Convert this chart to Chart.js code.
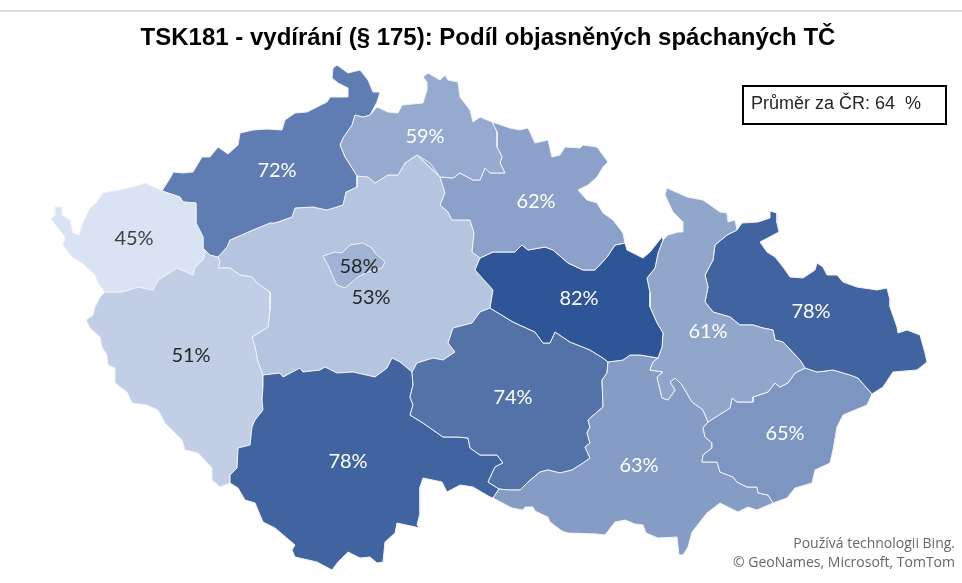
<!DOCTYPE html>
<html>
<head>
<meta charset="utf-8">
<title>TSK181</title>
<script src="https://cdn.jsdelivr.net/npm/chart.js@4/dist/chart.umd.min.js"></script>
<style>
  html, body { margin: 0; padding: 0; background: #fff; }
  canvas { display: block; }
</style>
</head>
<body>
<canvas id="map" width="962" height="583"></canvas>
<script>
// kraje a hodnoty
const regions = ['Karlovarský', 'Ústecký', 'Liberecký', 'Královéhradecký', 'Pardubický', 'Olomoucký', 'Moravskoslezský', 'Zlínský', 'Jihomoravský', 'Vysočina', 'Jihočeský', 'Plzeňský', 'Středočeský', 'Praha'];
const values = [45, 72, 59, 62, 82, 61, 78, 65, 63, 74, 78, 51, 53, 58];
const colors = ['#DAE3F3', '#5F7DB2', '#96AACF', '#8BA1C9', '#2E5597', '#90A6CB', '#41639F', '#7D96C1', '#859CC5', '#5372A8', '#41639F', '#C2CEE5', '#B5C4DF', '#A0B3D5'];
const labelColors = ['#404040', '#fff', '#fff', '#fff', '#fff', '#fff', '#fff', '#fff', '#fff', '#fff', '#fff', '#262626', '#262626', '#262626'];
const labelAnchors = [[134, 239], [277, 171], [425, 137], [536, 202], [579, 299], [708, 332], [811, 312], [785, 434], [639, 466], [513, 398], [348, 462], [191, 356], [371, 298], [359, 267]];

// hranice krajů odečtené z mapy, sdílené úseky
const kvNorth = [[162,191],[145,183],[137,186],[120,190],[103,193],[97,202],[90,208],[83,223],[79,235],[73,233],[70,220],[62,215],[62,207],[55,207],[55,215],[51,219],[58,228],[65,237],[63,245],[72,257],[82,263],[95,275],[98,283],[105,292]];
const kvPlzen = [[105,292],[113,292],[122,292],[138,287],[153,290],[158,280],[177,268],[193,275],[195,267],[203,260],[205,253],[203,248]];
const kvUsti = [[203,248],[203,237],[196,223],[196,203],[183,202],[180,197],[162,191]];
const ustiNorth = [[162,191],[172,175],[173,172],[183,173],[193,172],[202,157],[210,157],[218,147],[228,154],[238,145],[240,133],[253,130],[267,129],[282,130],[285,120],[295,113],[307,112],[327,102],[330,97],[348,97],[348,88],[338,83],[332,78],[333,68],[337,65],[348,73],[360,70],[368,80],[373,92],[380,92],[377,102],[370,115]];
const ustiLiberec = [[370,115],[363,117],[355,115],[352,125],[343,138],[340,145],[345,157],[352,168],[357,176]];
const ustiStred = [[357,176],[357,187],[346,192],[343,205],[327,210],[313,207],[295,208],[292,217],[275,223],[270,223],[253,230],[230,240],[227,247],[218,257],[210,255],[203,248]];
const plzenStred = [[218,257],[220,262],[218,268],[230,268],[240,275],[252,277],[257,283],[270,292],[270,310],[268,327],[252,337],[255,347],[258,362],[263,375]];
const jihStred = [[263,375],[280,373],[283,377],[300,368],[303,372],[320,370],[325,367],[337,373],[353,372],[375,377],[387,368],[392,358],[400,362],[412,372]];
const vysStred = [[412,372],[417,363],[433,358],[443,360],[455,352],[448,343],[453,328],[472,323],[480,312],[490,308]];
const parStred = [[490,308],[493,290],[475,270],[480,258],[472,252],[474,233],[470,220],[452,220],[448,212],[440,205],[445,193],[440,177]];
const hkStred = [[440,177],[430,163],[417,155]];
const libStred = [[417,155],[405,163],[398,175],[388,175],[375,183],[368,177],[357,176]];
const libNorth = [[370,115],[377,107],[388,112],[398,113],[402,105],[423,103],[427,90],[427,82],[423,77],[428,73],[440,80],[445,75],[448,80],[458,82],[460,97],[470,110],[473,122],[480,117],[492,122]];
const libHk = [[492,122],[497,132],[497,147],[502,157],[500,163],[505,173],[490,173],[485,168],[480,180],[473,180],[460,173],[453,178],[440,177]];
const hkNorth = [[492,122],[510,128],[520,130],[528,128],[535,143],[548,140],[552,157],[560,155],[565,147],[580,148],[583,145],[597,147],[608,162],[603,167],[597,177],[588,185],[578,190],[587,200],[597,203],[603,213],[613,220],[623,233],[625,243]];
const hkPar = [[625,243],[615,245],[607,257],[595,270],[583,270],[568,263],[553,250],[545,247],[528,250],[522,245],[515,252],[493,252],[480,258]];
const parNorth = [[625,243],[627,250],[643,258],[650,252],[662,237],[663,240]];
const parOlo = [[663,240],[658,253],[655,268],[647,278],[650,293],[650,307],[657,323],[663,333],[662,347],[658,358]];
const parJm = [[658,358],[640,355],[630,355],[623,360],[608,362]];
const parVys = [[608,362],[603,358],[590,350],[570,342],[555,332],[550,343],[543,343],[535,332],[513,322],[490,308]];
const oloNorth = [[663,240],[668,235],[678,232],[683,232],[683,222],[673,212],[665,195],[667,188],[687,197],[703,200],[720,212],[727,213],[728,222],[735,220],[737,230]];
const oloMsk = [[737,230],[727,235],[715,245],[713,260],[705,275],[708,287],[705,302],[713,312],[730,317],[740,325],[753,325],[763,328],[773,330],[775,340],[783,342],[798,358],[800,360],[805,368]];
const oloZlin = [[805,368],[795,373],[788,383],[780,387],[775,383],[768,392],[753,397],[753,402],[737,402],[732,398],[730,408],[708,422]];
const oloJm = [[708,422],[703,410],[692,402],[682,385],[675,378],[670,382],[675,390],[668,400],[662,398],[660,390],[657,377],[663,372],[650,370],[653,362],[658,358]];
const mskNorth = [[737,230],[742,223],[758,222],[770,218],[770,211],[777,213],[777,223],[779,232],[760,242],[767,252],[775,257],[783,267],[790,277],[803,278],[815,270],[817,263],[823,267],[827,275],[837,275],[843,282],[857,287],[877,290],[887,288],[890,300],[890,307],[897,327],[898,333],[907,330],[920,335],[925,353],[927,362],[917,370],[893,372],[883,387],[872,394]];
const mskZlin = [[872,394],[858,378],[850,375],[833,370],[817,372],[805,368]];
const zlinSouth = [[872,394],[867,405],[843,415],[837,427],[833,450],[830,463],[815,470],[812,483],[795,488],[787,498],[773,503]];
const zlinJm = [[773,503],[768,495],[758,493],[757,487],[747,487],[737,482],[733,477],[720,472],[717,462],[702,462],[703,455],[712,448],[712,443],[705,437],[703,428],[708,422]];
const jmSouth = [[773,503],[757,510],[748,507],[738,512],[720,503],[707,513],[692,532],[688,547],[683,555],[679,555],[677,537],[658,538],[646,533],[643,525],[635,524],[625,520],[615,522],[605,535],[597,534],[568,533],[562,531],[550,522],[548,517],[535,511],[533,507],[525,507],[523,510],[512,508],[493,498]];
const jmVys = [[608,362],[607,373],[602,380],[603,407],[588,420],[590,427],[587,433],[590,443],[585,447],[590,458],[583,463],[572,470],[560,473],[548,470],[540,472],[528,482],[520,490],[508,490],[499,489]];
const jihJm = [[499,489],[493,498]];
const jihVys = [[412,372],[413,385],[410,397],[413,405],[410,415],[423,423],[433,430],[443,437],[457,437],[468,438],[470,448],[480,455],[497,455],[503,463],[495,467],[488,482],[499,489]];
const jihSouth = [[493,498],[490,497],[473,487],[460,485],[447,492],[442,482],[423,478],[420,487],[420,513],[417,525],[420,528],[397,523],[395,533],[385,542],[383,562],[377,563],[370,557],[360,558],[348,552],[338,562],[332,570],[317,562],[295,557],[292,550],[295,545],[275,528],[263,522],[255,503],[245,500],[238,488],[230,483]];
const jihPlzen = [[230,483],[230,475],[237,468],[238,448],[250,445],[252,427],[255,420],[263,410],[262,400],[263,387],[263,375]];
const plzenSouth = [[105,292],[100,297],[95,307],[93,315],[86,320],[90,328],[100,337],[102,347],[107,355],[108,365],[115,368],[115,383],[127,392],[132,403],[147,405],[158,410],[165,423],[182,440],[185,450],[198,453],[212,468],[212,480],[220,487],[230,483]];
const prahaOutline = [[323,256],[335,252],[342,253],[350,245],[363,243],[372,248],[375,253],[385,262],[382,268],[368,272],[358,277],[345,288],[337,285],[333,277],[328,265],[323,256]];

const rev = a => a.slice().reverse();
const outlines = [
  [...kvNorth, ...kvPlzen, ...kvUsti],
  [...ustiNorth, ...ustiLiberec, ...ustiStred, ...kvUsti],
  [...libNorth, ...libHk, ...rev(hkStred), ...libStred.slice(0, -1), ...rev(ustiLiberec)],
  [...hkNorth, ...hkPar, ...parStred.slice(3), ...rev(libHk)],
  [...parNorth, ...parOlo, ...parJm, ...parVys, ...parStred.slice(0, 3), ...rev(hkPar)],
  [...oloNorth, ...oloMsk, ...oloZlin, ...oloJm, ...rev(parOlo)],
  [...mskNorth, ...mskZlin, ...rev(oloMsk)],
  [...zlinSouth, ...zlinJm, ...rev(oloZlin), ...rev(mskZlin)],
  [...jmSouth, ...rev(jihJm), ...rev(jmVys), ...rev(parJm), ...rev(oloJm), ...rev(zlinJm)],
  [...rev(parVys), ...jmVys, ...rev(jihVys), ...vysStred],
  [...jihStred, ...jihVys, ...jihJm, ...jihSouth, ...jihPlzen],
  [...kvPlzen, ...rev(ustiStred.slice(-3)), ...plzenStred, ...rev(jihPlzen), ...rev(plzenSouth)],
  [...plzenStred, ...jihStred, ...vysStred, ...parStred, ...hkStred, ...libStred, ...ustiStred.slice(0, 14)],
  prahaOutline
];

const titleText = 'TSK181 - vydírání (§ 175): Podíl objasněných spáchaných TČ';
const averageText = 'Průměr za ČR: 64  %';
const creditLines = ['Používá technologii Bing.', '© GeoNames, Microsoft, TomTom'];

// popisky krajů, rámeček s průměrem, čára nahoře a copyright
const mapText = {
  id: 'mapText',
  afterDatasetsDraw(chart) {
    const { ctx, scales: { x, y } } = chart;
    ctx.save();
    ctx.fillStyle = '#DDD';
    ctx.fillRect(0, 10, 962, 2);

    ctx.textBaseline = 'middle';
    ctx.textAlign = 'center';
    ctx.font = '20px Lato';
    values.forEach((v, i) => {
      ctx.fillStyle = labelColors[i];
      ctx.fillText(v + '%', x.getPixelForValue(labelAnchors[i][0]), y.getPixelForValue(labelAnchors[i][1]));
    });

    ctx.fillStyle = '#fff';
    ctx.strokeStyle = '#000';
    ctx.lineWidth = 2;
    ctx.fillRect(743, 86, 203, 38);
    ctx.strokeRect(743, 86, 203, 38);
    ctx.fillStyle = '#262626';
    ctx.textAlign = 'left';
    ctx.font = '18px "Liberation Sans"';
    ctx.fillText(averageText, 751, 104);

    ctx.textAlign = 'right';
    ctx.fillStyle = '#666';
    ctx.font = '14px "Open Sans"';
    ctx.fillText(creditLines[0], 955, 544);
    ctx.fillText(creditLines[1], 955, 563);
    ctx.restore();
  }
};

new Chart(document.getElementById('map'), {
  type: 'scatter',
  data: {
    datasets: regions.map((name, i) => ({
      label: name,
      data: outlines[i].map(p => ({ x: p[0], y: p[1] })),
      showLine: true,
      fill: 'shape',
      backgroundColor: colors[i],
      borderColor: '#EEF2F9',
      borderWidth: 1,
      pointRadius: 0,
      tension: 0,
      clip: false,
      // Praha lezi uvnitr Stredoceskeho, musi se kreslit az po nem
      order: name === 'Praha' ? -1 : 0
    }))
  },
  options: {
    responsive: false,
    animation: false,
    layout: { padding: { left: 14 } },
    scales: {
      x: { type: 'linear', min: 14, max: 962, display: false },
      y: { type: 'linear', min: 51, max: 583, reverse: true, display: false }
    },
    plugins: {
      legend: { display: false },
      tooltip: { enabled: false },
      title: {
        display: true,
        text: titleText,
        fullSize: false,
        color: '#000',
        font: { family: '"Liberation Sans"', size: 24, weight: 'bold', lineHeight: 1 },
        padding: { top: 26, bottom: 1 }
      }
    }
  },
  plugins: [mapText]
});
</script>
</body>
</html>
